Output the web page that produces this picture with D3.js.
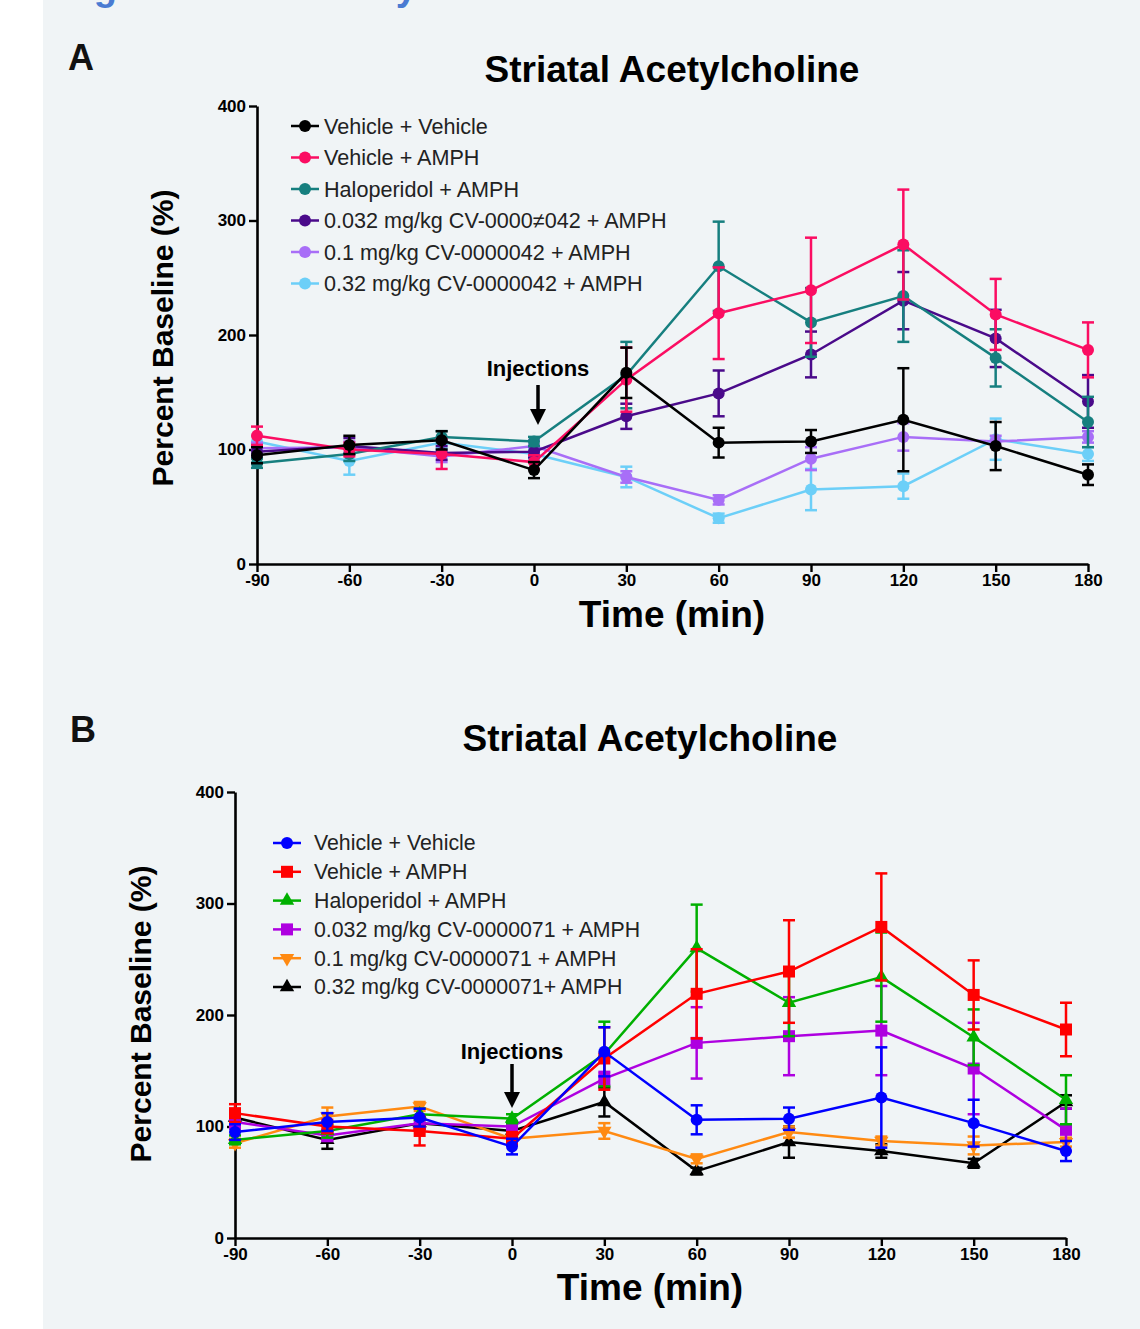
<!DOCTYPE html>
<html>
<head>
  <meta charset="utf-8">
  <title>Striatal Acetylcholine</title>
  <script src="https://d3js.org/d3.v7.min.js"></script>
  <style type="text/css">
    body { margin: 0; background: #fff; }
    svg { font-family: "Liberation Sans", Arial, sans-serif; display: block; }
  </style>
</head>
<body>
<div id="chart"></div>
<script type="text/javascript">
  // time points (min) and axis ticks
  var times = [-90, -60, -30, 0, 30, 60, 90, 120, 150, 180];
  var yTicks = [0, 100, 200, 300, 400];

  // panel A series (mean, sem)
  var vehVeh = [95, 104, 108, 82, 167, 106, 107, 126, 103, 78];
  var vehVehErr = [7, 8, 8, 7, 22, 13, 10, 45, 21, 9];
  var vehAmph = [112, 100, 96, 89, 161, 219, 239, 279, 218, 187];
  var vehAmphErr = [8, 6, 13, 6, 28, 40, 46, 48, 31, 24];
  var haloAmph = [88, 96, 111, 107, 165, 260, 211, 234, 180, 124];
  var haloAmphErr = [4, 6, 5, 4, 29, 39, 30, 40, 25, 22];
  var cv42Low = [98, 103, 97, 98, 129, 149, 183, 230, 197, 142];
  var cv42LowErr = [5, 7, 6, 5, 11, 20, 20, 25, 25, 23];
  var cv42Mid = [101, 102, 94, 103, 76, 56, 92, 111, 107, 111];
  var cv42MidErr = [5, 5, 5, 5, 5, 4, 10, 12, 5, 5];
  var cv42High = [107, 90, 106, 96, 76, 40, 65, 68, 109, 96];
  var cv42HighErr = [5, 12, 5, 5, 9, 4, 18, 11, 18, 6];

  // panel B extra series
  var cv71Low = [104, 92, 103, 100, 143, 175, 181, 186, 152, 97];
  var cv71LowErr = [6, 5, 5, 5, 6, 32, 35, 40, 41, 19];
  var cv71Mid = [85, 109, 118, 89, 96, 71, 95, 87, 83, 86];
  var cv71MidErr = [4, 8, 4, 5, 7, 4, 5, 4, 8, 4];
  var cv71High = [108, 88, 103, 96, 122, 60, 86, 78, 67, 122];
  var cv71HighErr = [5, 8, 5, 5, 13, 3, 14, 6, 4, 6];

  var labelsA = ["Vehicle + Vehicle", "Vehicle + AMPH", "Haloperidol + AMPH",
    "0.032 mg/kg CV-0000\u2260042 + AMPH", "0.1 mg/kg CV-0000042 + AMPH", "0.32 mg/kg CV-0000042 + AMPH"];
  var labelsB = ["Vehicle + Vehicle", "Vehicle + AMPH", "Haloperidol + AMPH",
    "0.032 mg/kg CV-0000071 + AMPH", "0.1 mg/kg CV-0000071 + AMPH", "0.32 mg/kg CV-0000071+ AMPH"];

  var colorsA = ["#000000", "#fb0d62", "#167f7f", "#4a0a8a", "#a86ef7", "#6ccff8"];
  var colorsB = ["#0000ff", "#ff0000", "#00b000", "#ae00e0", "#ff8a12", "#000000"];
  var shapesB = ["circle", "square", "up", "square", "down", "up"];

  var W = 1140, H = 1329;
  var svg = d3.select("#chart").append("svg").attr("width", W).attr("height", H);

  // page background
  svg.append("rect").attr("x", 43).attr("y", 0).attr("width", W - 43).attr("height", H).attr("fill", "#f0f4f6");
  svg.append("text").attr("x", 60).attr("y", 0).attr("fill", "#4a7bd2")
    .attr("font-size", 38).attr("font-weight", "bold").text("Figure 3. Microdialysis");

  drawPanel({
    letter: "A", letterX: 68, letterY: 70,
    left: 257, right: 1088, top: 106, bottom: 564,
    titleX: 672, titleY: 82, xTitleY: 627, yTitleX: 173, yTitleY: 338,
    legX: 291, legY: 126, legStep: 31.5, legText: 324, legFont: 21.6,
    injX: 4, injTextY: 376, injTop: 385, injTip: 425,
    means: [vehVeh, vehAmph, haloAmph, cv42Low, cv42Mid, cv42High],
    errs: [vehVehErr, vehAmphErr, haloAmphErr, cv42LowErr, cv42MidErr, cv42HighErr],
    labels: labelsA, colors: colorsA,
    shapes: ["circle", "circle", "circle", "circle", "circle", "circle"]
  });

  drawPanel({
    letter: "B", letterX: 70, letterY: 742,
    left: 235, right: 1066, top: 792, bottom: 1238,
    titleX: 650, titleY: 751, xTitleY: 1300, yTitleX: 151, yTitleY: 1014,
    legX: 273, legY: 843, legStep: 28.8, legText: 314, legFont: 21.3,
    injX: 0, injTextY: 1059, injTop: 1064, injTip: 1108,
    means: [vehVeh, vehAmph, haloAmph, cv71Low, cv71Mid, cv71High],
    errs: [vehVehErr, vehAmphErr, haloAmphErr, cv71LowErr, cv71MidErr, cv71HighErr],
    labels: labelsB, colors: colorsB, shapes: shapesB
  });

  function marker(g, shape, cx, cy, color) {
    if (shape == "circle") {
      g.append("circle").attr("cx", cx).attr("cy", cy).attr("r", 6).attr("fill", color);
    } else if (shape == "square") {
      g.append("rect").attr("x", cx - 6).attr("y", cy - 6).attr("width", 12).attr("height", 12).attr("fill", color);
    } else {
      var sym = d3.symbol().type(d3.symbolTriangle).size(90);
      g.append("path").attr("d", sym())
        .attr("transform", "translate(" + cx + "," + cy + ")" + (shape == "down" ? " rotate(180)" : ""))
        .attr("fill", color);
    }
  }

  function drawPanel(p) {
    var x = d3.scaleLinear().domain([-90, 180]).range([p.left, p.right]);
    var y = d3.scaleLinear().domain([0, 400]).range([p.bottom, p.top]);
    var g = svg.append("g");
    var plain = function (d) { return String(d); };

    g.append("text").attr("x", p.letterX).attr("y", p.letterY).attr("font-size", 36)
      .attr("font-weight", "bold").attr("fill", "#111").text(p.letter);
    g.append("text").attr("x", p.titleX).attr("y", p.titleY).attr("text-anchor", "middle")
      .attr("font-size", 37).attr("font-weight", "bold").text("Striatal Acetylcholine");

    // axes
    var xAxis = g.append("g").attr("transform", "translate(0," + p.bottom + ")")
      .call(d3.axisBottom(x).tickValues(times).tickFormat(plain).tickSize(8).tickPadding(2).tickSizeOuter(0));
    var yAxis = g.append("g").attr("transform", "translate(" + p.left + ",0)")
      .call(d3.axisLeft(y).tickValues(yTicks).tickFormat(plain).tickSize(8).tickPadding(3).tickSizeOuter(0));
    [xAxis, yAxis].forEach(function (a) {
      a.select(".domain").attr("stroke", "#000").attr("stroke-width", 2.6);
      a.selectAll(".tick line").attr("stroke", "#000").attr("stroke-width", 2.4);
      a.selectAll(".tick text").attr("fill", "#000").attr("font-size", 17).attr("font-weight", "bold")
        .attr("font-family", "'Liberation Sans', Arial, sans-serif");
    });

    g.append("text").attr("x", p.titleX).attr("y", p.xTitleY).attr("text-anchor", "middle")
      .attr("font-size", 37).attr("font-weight", "bold").text("Time (min)");
    g.append("text").attr("transform", "translate(" + p.yTitleX + "," + p.yTitleY + ") rotate(-90)")
      .attr("text-anchor", "middle").attr("font-size", 30).attr("font-weight", "bold")
      .text("Percent Baseline (%)");

    // injection marker
    var ix = x(0) + p.injX;
    g.append("text").attr("x", ix).attr("y", p.injTextY).attr("text-anchor", "middle")
      .attr("font-size", 22).attr("font-weight", "bold").text("Injections");
    g.append("line").attr("x1", ix).attr("x2", ix).attr("y1", p.injTop).attr("y2", p.injTip - 14)
      .attr("stroke", "#000").attr("stroke-width", 3.5);
    g.append("path").attr("d", "M" + (ix - 8) + "," + (p.injTip - 16) + "L" + (ix + 8) + "," + (p.injTip - 16) +
      "L" + ix + "," + p.injTip + "Z").attr("fill", "#000");

    // series, first one on top
    var line = d3.line().x(function (d) { return x(d.t); }).y(function (d) { return y(d.v); });
    for (var s = p.means.length - 1; s >= 0; s--) {
      var col = p.colors[s];
      var pts = times.map(function (t, i) { return { t: t, v: p.means[s][i], e: p.errs[s][i] }; });
      var sg = g.append("g");
      pts.forEach(function (d) {
        var cx = x(d.t);
        sg.append("line").attr("x1", cx).attr("x2", cx).attr("y1", y(d.v - d.e)).attr("y2", y(d.v + d.e))
          .attr("stroke", col).attr("stroke-width", 2.5);
        [d.v - d.e, d.v + d.e].forEach(function (v) {
          sg.append("line").attr("x1", cx - 6).attr("x2", cx + 6).attr("y1", y(v)).attr("y2", y(v))
            .attr("stroke", col).attr("stroke-width", 2.5);
        });
      });
      sg.append("path").datum(pts).attr("d", line).attr("fill", "none")
        .attr("stroke", col).attr("stroke-width", 2.5);
      pts.forEach(function (d) { marker(sg, p.shapes[s], x(d.t), y(d.v), col); });
    }

    // legend
    p.labels.forEach(function (lab, i) {
      var ly = p.legY + i * p.legStep;
      g.append("line").attr("x1", p.legX).attr("x2", p.legX + 28).attr("y1", ly).attr("y2", ly)
        .attr("stroke", p.colors[i]).attr("stroke-width", 2.5);
      marker(g, p.shapes[i], p.legX + 14, ly, p.colors[i]);
      g.append("text").attr("x", p.legText).attr("y", ly).attr("dy", "0.35em")
        .attr("font-size", p.legFont).attr("fill", "#222").text(lab);
    });
  }
</script>
</body>
</html>
